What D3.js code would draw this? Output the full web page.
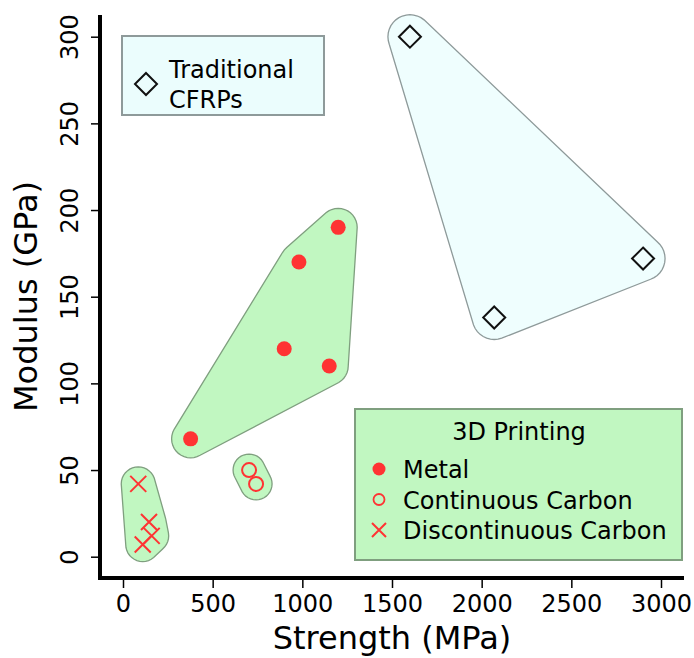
<!DOCTYPE html>
<html>
<head>
<meta charset="utf-8">
<script src="https://cdn.jsdelivr.net/npm/d3@7"></script>
<style>
  html, body { margin: 0; padding: 0; background: #fff; }
  svg { display: block; font-family: "DejaVu Sans", sans-serif; }
</style>
</head>
<body>
<svg id="chart" width="694" height="658"></svg>
<script>
// ---- data ----
const metalStrength = [377, 899, 981, 1150, 1200];
const metalModulus  = [68, 120, 170, 110, 190];
const contStrength  = [703, 742];
const contModulus   = [50, 42];
const discStrength  = [85, 145, 160, 110];
const discModulus   = [42, 20, 12, 7];
const cfrpStrength  = [1600, 2070, 2900];
const cfrpModulus   = [300, 138, 172];
const xTicks = [0, 500, 1000, 1500, 2000, 2500, 3000];
const yTicks = [0, 50, 100, 150, 200, 250, 300];
const legendItems = ["Metal", "Continuous Carbon", "Discontinuous Carbon"];

const svg = d3.select("#chart");
const x = d3.scaleLinear().domain([0, 3000]).range([123, 661]);
const y = d3.scaleLinear().domain([0, 300]).range([556.7, 36.7]);
const plotLeft = 100, plotRight = 684, plotTop = 15, plotBottom = 578;

const zip = (a, b) => a.map((v, i) => [v, b[i]]);
const metal = zip(metalStrength, metalModulus);
const cont = zip(contStrength, contModulus);
const disc = zip(discStrength, discModulus);
const cfrp = zip(cfrpStrength, cfrpModulus);

const green = "#c1f7c1", greenStroke = "#7f9f7f";
const cyan = "#effefe", cyanStroke = "#8e9a9a";
const red = "#ff3333";

function hull(points, R) {
  const pts = [];
  points.forEach(([sx, my]) => {
    const px = x(sx), py = y(my);
    for (let k = 0; k < 36; k++) {
      const a = k / 36 * 2 * Math.PI;
      pts.push([px + R * Math.cos(a), py + R * Math.sin(a)]);
    }
  });
  return d3.polygonHull(pts);
}
const closed = d3.line().curve(d3.curveLinearClosed);

// hulls
svg.append("path").attr("d", closed(hull(cfrp, 22))).attr("fill", cyan).attr("stroke", cyanStroke).attr("stroke-width", 1.3);
svg.append("path").attr("d", closed(hull(metal, 19))).attr("fill", green).attr("stroke", greenStroke).attr("stroke-width", 1.3);
svg.append("path").attr("d", closed(hull(cont, 16))).attr("fill", green).attr("stroke", greenStroke).attr("stroke-width", 1.3);
svg.append("path").attr("d", closed(hull(disc, 17))).attr("fill", green).attr("stroke", greenStroke).attr("stroke-width", 1.3);

// axes
const xAxis = svg.append("g").attr("transform", `translate(0,${plotBottom})`)
  .call(d3.axisBottom(x).tickValues(xTicks).tickSize(10).tickPadding(6).tickFormat(d3.format("d")));
xAxis.select(".domain").remove();
xAxis.selectAll(".tick line").attr("stroke", "#000").attr("stroke-width", 1.5);
xAxis.selectAll(".tick text").attr("font-size", 24).attr("font-family", "DejaVu Sans").attr("fill", "#000")
  .attr("dy", null).attr("y", 34);

const yAxis = svg.append("g").attr("transform", `translate(${plotLeft},0)`)
  .call(d3.axisLeft(y).tickValues(yTicks).tickSize(9).tickFormat(d3.format("d")));
yAxis.select(".domain").remove();
yAxis.selectAll(".tick line").attr("stroke", "#000").attr("stroke-width", 1.5);
yAxis.selectAll(".tick text").attr("font-size", 24).attr("font-family", "DejaVu Sans").attr("fill", "#000")
  .attr("x", null).attr("dy", null).attr("text-anchor", "middle")
  .attr("transform", "translate(-22,0) rotate(-90)");

svg.append("line").attr("x1", plotLeft).attr("x2", plotLeft).attr("y1", plotTop).attr("y2", plotBottom + 2)
  .attr("stroke", "#000").attr("stroke-width", 4);
svg.append("line").attr("x1", plotLeft - 2).attr("x2", plotRight).attr("y1", plotBottom).attr("y2", plotBottom)
  .attr("stroke", "#000").attr("stroke-width", 4);

// axis titles
svg.append("text").attr("x", (plotLeft + plotRight) / 2).attr("y", 649).attr("text-anchor", "middle")
  .attr("font-size", 32).text("Strength (MPa)");
svg.append("text").attr("transform", `translate(37,${(plotTop + plotBottom) / 2}) rotate(-90)`)
  .attr("text-anchor", "middle").attr("font-size", 32).text("Modulus (GPa)");

// markers
const diamond = (cx, cy, s) => `M${cx},${cy - s}L${cx + s},${cy}L${cx},${cy + s}L${cx - s},${cy}Z`;
const cross = (cx, cy, s) => `M${cx - s},${cy - s}L${cx + s},${cy + s}M${cx - s},${cy + s}L${cx + s},${cy - s}`;

svg.append("g").selectAll("path").data(cfrp).join("path")
  .attr("d", d => diamond(x(d[0]), y(d[1]), 11)).attr("fill", "none").attr("stroke", "#111").attr("stroke-width", 2);
svg.append("g").selectAll("circle").data(metal).join("circle")
  .attr("cx", d => x(d[0])).attr("cy", d => y(d[1])).attr("r", 7.5).attr("fill", red);
svg.append("g").selectAll("circle").data(cont).join("circle")
  .attr("cx", d => x(d[0])).attr("cy", d => y(d[1])).attr("r", 7).attr("fill", "none").attr("stroke", red).attr("stroke-width", 2);
svg.append("g").selectAll("path").data(disc).join("path")
  .attr("d", d => cross(x(d[0]), y(d[1]), 8)).attr("stroke", red).attr("stroke-width", 2).attr("fill", "none");

// legend: Traditional CFRPs
const lg1 = svg.append("g");
lg1.append("rect").attr("x", 122).attr("y", 36).attr("width", 202).attr("height", 79)
  .attr("fill", "#ebfdfd").attr("stroke", cyanStroke).attr("stroke-width", 2);
lg1.append("path").attr("d", diamond(146, 84, 11)).attr("fill", "none").attr("stroke", "#111").attr("stroke-width", 2);
lg1.append("text").attr("x", 169).attr("y", 78).attr("font-size", 24).text("Traditional");
lg1.append("text").attr("x", 169).attr("y", 108).attr("font-size", 24).text("CFRPs");

// legend: 3D Printing
const lg2 = svg.append("g");
lg2.append("rect").attr("x", 355).attr("y", 409).attr("width", 327).attr("height", 151)
  .attr("fill", green).attr("stroke", greenStroke).attr("stroke-width", 2);
lg2.append("text").attr("x", 519).attr("y", 440).attr("text-anchor", "middle").attr("font-size", 24).text("3D Printing");
legendItems.forEach((t, i) => {
  const by = 478 + i * 30.5;
  lg2.append("text").attr("x", 403).attr("y", by).attr("font-size", 24).text(t);
  const cy = by - 9;
  if (i === 0) lg2.append("circle").attr("cx", 379).attr("cy", cy).attr("r", 6.5).attr("fill", red);
  if (i === 1) lg2.append("circle").attr("cx", 379).attr("cy", cy).attr("r", 5.5).attr("fill", "none").attr("stroke", red).attr("stroke-width", 1.8);
  if (i === 2) lg2.append("path").attr("d", cross(379, cy, 7)).attr("stroke", red).attr("stroke-width", 2).attr("fill", "none");
});
</script>
</body>
</html>
